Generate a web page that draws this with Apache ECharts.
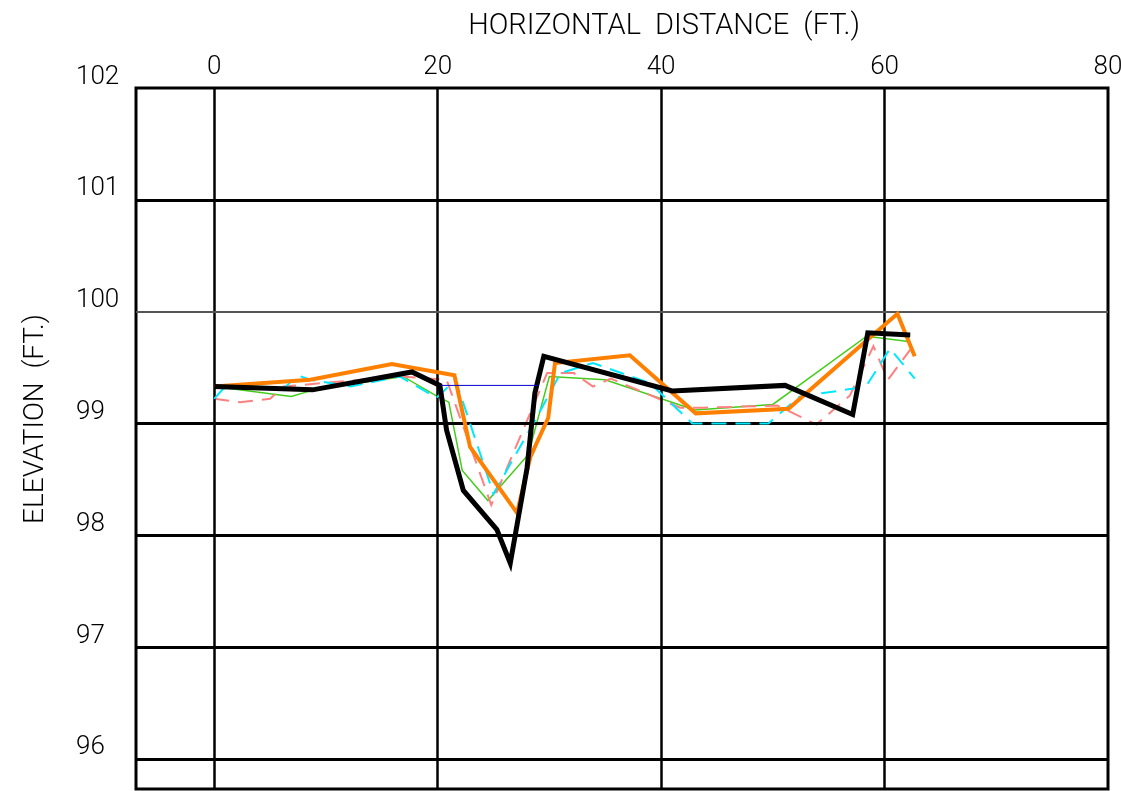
<!DOCTYPE html>
<html>
<head>
<meta charset="utf-8">
<title>Cross Section</title>
<script src="https://cdn.jsdelivr.net/npm/echarts@6/dist/echarts.min.js"></script>
<style>
  html, body { margin: 0; padding: 0; background: #ffffff; }
  #chart { width: 1121px; height: 791px; }
</style>
</head>
<body>
<div id="chart"></div>
<script>
// Axis ticks
const xTicks = [0, 20, 40, 60, 80];
const yTicks = [96, 97, 98, 99, 100, 101, 102];

// Surveyed ground profiles: [horizontal distance (ft), elevation (ft)]
const groundBlack = [[0, 99.33], [8.8, 99.30], [17.7, 99.46], [20.2, 99.34], [20.8, 98.94], [22.3, 98.40], [25.3, 98.05], [26.5, 97.75], [28.0, 98.60], [28.7, 99.27], [29.5, 99.60], [41.0, 99.29], [51.1, 99.34], [57.15, 99.08], [58.5, 99.81], [62.3, 99.79]];
const groundOrange = [[0, 99.33], [8.6, 99.39], [15.9, 99.53], [21.5, 99.43], [22.9, 98.79], [27.1, 98.20], [28.3, 98.70], [29.9, 99.05], [30.5, 99.54], [37.2, 99.61], [43.1, 99.09], [51.4, 99.13], [57.8, 99.69], [61.15, 99.98], [62.7, 99.60]];
const groundGreen = [[0, 99.33], [6.9, 99.24], [8.9, 99.30], [16.9, 99.42], [20.0, 99.24], [21.0, 99.19], [22.2, 98.58], [24.5, 98.31], [28.1, 98.72], [30.0, 99.42], [35.0, 99.39], [43.0, 99.12], [50.0, 99.17], [58.4, 99.78], [62.3, 99.73]];
const groundCyan = [[0, 99.22], [0.8, 99.31], [6.3, 99.32], [7.5, 99.43], [8.6, 99.39], [12.2, 99.33], [16.6, 99.42], [19.9, 99.23], [21.6, 99.39], [25.0, 98.37], [28.9, 99.06], [31.0, 99.45], [33.9, 99.54], [39.0, 99.36], [42.8, 99.00], [49.6, 99.00], [52.4, 99.24], [57.1, 99.31], [58.4, 99.34], [60.5, 99.67], [62.7, 99.40]];
const groundPink = [[0, 99.22], [2.3, 99.19], [5.0, 99.22], [6.2, 99.33], [16.6, 99.42], [20.8, 99.39], [24.8, 98.27], [29.8, 99.45], [32.2, 99.45], [33.9, 99.33], [35.5, 99.40], [41.7, 99.14], [43.8, 99.14], [50.4, 99.16], [53.9, 98.99], [56.9, 99.25], [59.0, 99.69], [60.3, 99.39], [62.3, 99.66]];
// Water surface across the channel
const waterSurface = [[20.3, 99.34], [29.0, 99.34]];

const FONT = 'Roboto';
const chart = echarts.init(document.getElementById('chart'), null, { renderer: 'canvas' });

const vLines = [0, 20, 40, 60].map(v => ({ xAxis: v, lineStyle: { color: '#000', width: 2.5, type: 'solid' } }));
const hLines = [96, 97, 98, 99, 100, 101].map(v => ({
  yAxis: v,
  lineStyle: v === 100 ? { color: '#555', width: 2, type: 'solid' } : { color: '#000', width: 3, type: 'solid' }
}));

function profile(data, color, width, dash, z) {
  return {
    type: 'line', data: data, showSymbol: false, symbol: 'none', z: z, silent: true,
    lineStyle: { color: color, width: width, type: dash ? [15, 9] : 'solid', cap: 'butt', join: 'miter' },
    animation: false
  };
}

chart.setOption({
  animation: false,
  backgroundColor: '#ffffff',
  title: {
    text: 'HORIZONTAL  DISTANCE  (FT.)',
    left: 659, top: 7, textAlign: 'center',
    textStyle: { fontFamily: FONT, fontWeight: 300, fontSize: 29, color: '#000' }
  },
  graphic: [{
    type: 'text', x: 36, y: 419, rotation: Math.PI / 2,
    style: { text: 'ELEVATION  (FT.)', fontFamily: FONT, fontWeight: 300, fontSize: 28, fill: '#000', align: 'center', verticalAlign: 'middle' }
  }],
  grid: { left: 136, top: 88, right: 13, bottom: 2, outerBoundsMode: 'none', show: true, borderColor: '#000', borderWidth: 3, backgroundColor: 'transparent' },
  xAxis: {
    type: 'value', position: 'top', min: -7, max: 80,
    axisLine: { show: false }, axisTick: { show: false }, splitLine: { show: false },
    axisLabel: { customValues: xTicks, fontFamily: FONT, fontWeight: 300, fontSize: 26, color: '#000', margin: 8 }
  },
  yAxis: {
    type: 'value', min: 95.73, max: 102,
    axisLine: { show: false }, axisTick: { show: false }, splitLine: { show: false },
    axisLabel: { customValues: yTicks, fontFamily: FONT, fontWeight: 300, fontSize: 26, lineHeight: 22, color: '#000', margin: 60, align: 'left', verticalAlign: 'bottom' }
  },
  series: [
    {
      type: 'line', data: [], silent: true, z: 1,
      markLine: { silent: true, symbol: ['none', 'none'], label: { show: false }, animation: false, data: vLines.concat(hLines) }
    },
    profile(groundGreen, '#44cc1a', 1.5, false, 3),
    profile(groundPink, '#ff8080', 2, true, 4),
    profile(groundCyan, '#00e8ff', 2, true, 5),
    profile(groundOrange, '#ff8000', 4, false, 6),
    profile(groundBlack, '#000000', 5, false, 7),
    profile(waterSurface, '#0000cc', 1, false, 8)
  ]
});
</script>
</body>
</html>
